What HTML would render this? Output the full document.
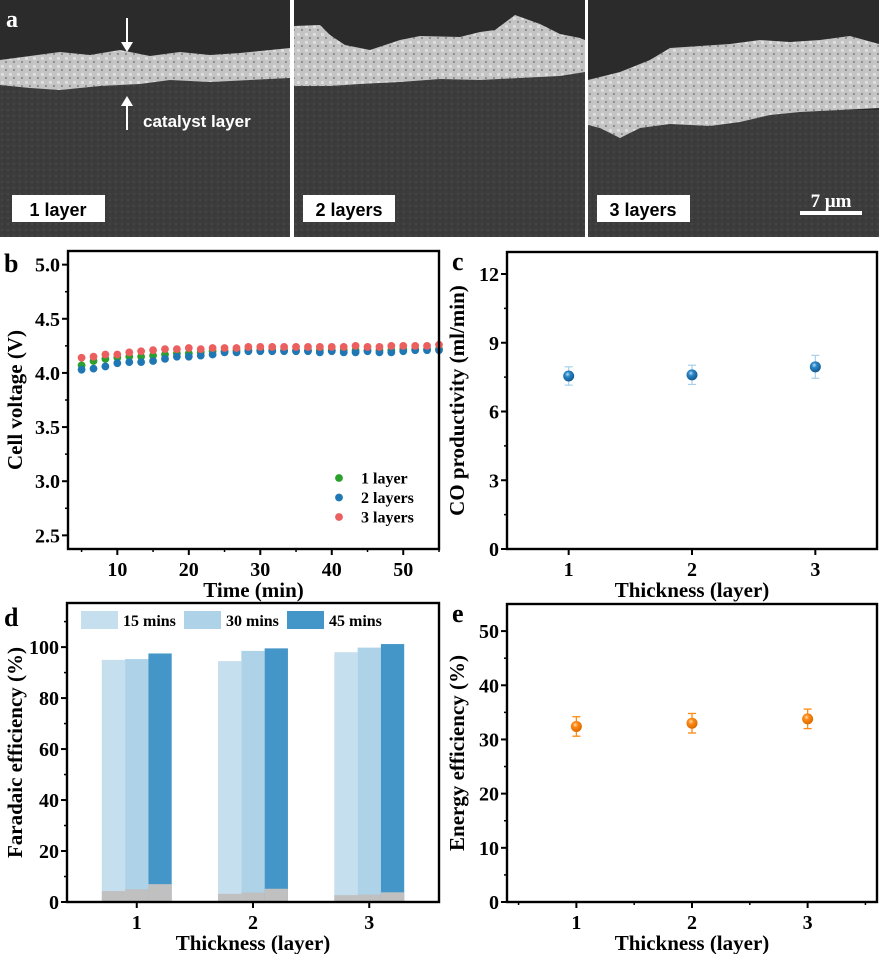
<!DOCTYPE html>
<html><head><meta charset="utf-8"><style>
html,body{margin:0;padding:0;background:#fff;}
svg{display:block;font-family:"Liberation Serif",serif;font-weight:bold;}
</style></head><body>
<svg id="fig" width="879" height="954" viewBox="0 0 879 954" xmlns="http://www.w3.org/2000/svg">
<defs>
<radialGradient id="gBlue" cx="40%" cy="35%" r="65%"><stop offset="0" stop-color="#bfe0f5"/><stop offset="0.35" stop-color="#2a86c6"/><stop offset="1" stop-color="#135a92"/></radialGradient>
<radialGradient id="gOr" cx="40%" cy="35%" r="65%"><stop offset="0" stop-color="#ffe0b8"/><stop offset="0.35" stop-color="#ff8a14"/><stop offset="1" stop-color="#d86a00"/></radialGradient>
<pattern id="grain" width="6" height="6" patternUnits="userSpaceOnUse"><rect width="6" height="6" fill="#3c3c3c"/><rect x="1" y="1" width="2" height="2" fill="#454545"/><rect x="4" y="3" width="1" height="2" fill="#353535"/></pattern>
<pattern id="cat" width="8" height="8" patternUnits="userSpaceOnUse"><rect width="8" height="8" fill="#c4c4c4"/><rect x="1" y="1" width="3" height="3" fill="#dedede"/><rect x="5" y="5" width="2" height="2" fill="#909090"/></pattern>
</defs>

<g id="panel-a">
  <g>
    <rect x="0" y="0" width="290" height="237" fill="url(#grain)"/>
    <rect x="0" y="0" width="290" height="60" fill="#2b2b2b"/>
    <polygon fill="url(#cat)" points="0,60 30,56 60,52 90,55 120,50 150,56 180,52 210,55 240,53 290,48 290,78 250,80 210,82 170,80 140,84 100,86 60,90 30,88 0,85"/>
    <text x="6" y="27" fill="#fff" font-size="24">a</text>
    <line x1="127" y1="18" x2="127" y2="44" stroke="#fff" stroke-width="2"/><polygon points="121,42 133,42 127,52" fill="#fff"/>
    <line x1="127" y1="130" x2="127" y2="104" stroke="#fff" stroke-width="2"/><polygon points="121,106 133,106 127,96" fill="#fff"/>
    <text x="143" y="127" fill="#fff" font-size="17" font-family="Liberation Sans,sans-serif">catalyst layer</text>
    <rect x="12" y="195" width="93" height="27" fill="#fff"/>
    <text x="58" y="216" text-anchor="middle" font-size="18" font-family="Liberation Sans,sans-serif">1 layer</text>
  </g>
  <g>
    <rect x="294" y="0" width="291" height="237" fill="url(#grain)"/>
    <rect x="294" y="0" width="291" height="70" fill="#2b2b2b"/>
    <polygon fill="url(#cat)" points="294,26 320,25 330,35 345,45 370,50 400,40 420,36 460,37 480,32 495,30 515,15 540,24 560,34 580,38 585,40 585,72 560,76 520,78 480,80 440,79 400,82 360,84 330,86 294,86"/>
    <rect x="303" y="195" width="92" height="27" fill="#fff"/>
    <text x="349" y="216" text-anchor="middle" font-size="18" font-family="Liberation Sans,sans-serif">2 layers</text>
  </g>
  <g>
    <rect x="588" y="0" width="291" height="237" fill="url(#grain)"/>
    <rect x="588" y="0" width="291" height="110" fill="#2b2b2b"/>
    <polygon fill="url(#cat)" points="588,80 620,72 650,60 670,48 700,46 730,44 760,40 790,42 820,40 850,36 879,44 879,108 840,110 800,112 770,115 740,122 710,126 670,124 640,128 620,138 600,128 588,125"/>
    <rect x="597" y="195" width="93" height="27" fill="#fff"/>
    <text x="643" y="216" text-anchor="middle" font-size="18" font-family="Liberation Sans,sans-serif">3 layers</text>
    <text x="831" y="207" text-anchor="middle" fill="#fff" font-size="19">7 μm</text>
    <rect x="800" y="211" width="62" height="4" fill="#fff"/>
  </g>
</g>
<g id="charts"></g>
</svg>
<script>
// ---- Panel b data ----
const bTimes = [5,6.67,8.33,10,11.67,13.33,15,16.67,18.33,20,21.67,23.33,25,26.67,28.33,30,31.67,33.33,35,36.67,38.33,40,41.67,43.33,45,46.67,48.33,50,51.67,53.33,55];
const bLayer1 = [4.07,4.11,4.13,4.14,4.15,4.15,4.16,4.17,4.18,4.18,4.19,4.20,4.20,4.21,4.21,4.21,4.21,4.21,4.21,4.21,4.21,4.21,4.21,4.21,4.21,4.21,4.21,4.22,4.22,4.22,4.22];
const bLayer2 = [4.03,4.04,4.06,4.09,4.10,4.10,4.11,4.13,4.15,4.15,4.16,4.17,4.19,4.19,4.20,4.20,4.20,4.20,4.20,4.20,4.19,4.20,4.19,4.19,4.20,4.19,4.19,4.20,4.21,4.21,4.21];
const bLayer3 = [4.14,4.15,4.17,4.17,4.19,4.20,4.21,4.22,4.22,4.23,4.22,4.23,4.23,4.23,4.24,4.24,4.24,4.24,4.24,4.24,4.24,4.24,4.24,4.25,4.24,4.24,4.25,4.25,4.25,4.25,4.26];
const bYTicks = [2.5,3.0,3.5,4.0,4.5,5.0];
const bXTicks = [10,20,30,40,50];
// ---- Panel c data ----
const cCats = [1,2,3];
const cValues = [7.55,7.6,7.95];
const cErrors = [0.4,0.42,0.5];
const cYTicks = [0,3,6,9,12];
// ---- Panel d data ----
const dCats = [1,2,3];
const dSeries = ['15 mins','30 mins','45 mins'];
const dFE15 = [95,94.5,98];
const dFE30 = [95.3,98.5,99.8];
const dFE45 = [97.5,99.5,101.2];
const dH2_15 = [4.3,3.2,2.7];
const dH2_30 = [5,3.7,2.9];
const dH2_45 = [7,5.2,3.8];
const dYTicks = [0,20,40,60,80,100];
// ---- Panel e data ----
const eCats = [1,2,3];
const eValues = [32.4,33,33.8];
const eErrors = [1.8,1.8,1.8];
const eYTicks = [0,10,20,30,40,50];

const NS='http://www.w3.org/2000/svg';
const root=document.getElementById('charts');
function el(tag,attrs,parent,text){const e=document.createElementNS(NS,tag);for(const k in attrs)e.setAttribute(k,attrs[k]);if(text!==undefined)e.textContent=text;(parent||root).appendChild(e);return e;}
function lin(d0,d1,r0,r1){return v=>r0+(v-d0)/(d1-d0)*(r1-r0);}

function frame(g,L,T,R,B,xs,ys,xTicks,yTicks,xMinor,yMinor,xTitle,yTitle,letter,yTitleX){
  el('rect',{x:L,y:T,width:R-L,height:B-T,fill:'none',stroke:'#000','stroke-width':2.4},g);
  const dec=yTicks.some(q=>q%1!==0);
  yTicks.forEach(v=>{const y=ys(v);
    el('line',{x1:L-6,y1:y,x2:L,y2:y,stroke:'#000','stroke-width':2},g);
    const tx=el('text',{x:L-8,y:y+7,'text-anchor':'end','font-size':20},g,dec?v.toFixed(1):String(v));
    
    
  });
  yMinor.forEach(v=>{const y=ys(v);el('line',{x1:L-3,y1:y,x2:L,y2:y,stroke:'#000','stroke-width':1.5},g);});
  xTicks.forEach(v=>{const x=xs(v);
    el('line',{x1:x,y1:B,x2:x,y2:B+6,stroke:'#000','stroke-width':2},g);
    const tx=el('text',{x:x,y:B+27,'text-anchor':'middle','font-size':20},g,String(v));
    
    
  });
  xMinor.forEach(v=>{const x=xs(v);el('line',{x1:x,y1:B,x2:x,y2:B+3,stroke:'#000','stroke-width':1.5},g);});
  const xt=el('text',{x:(L+R)/2,y:B+48,'text-anchor':'middle','font-size':21},g,xTitle);
  
  
  const cy=(T+B)/2;
  const yt=el('text',{x:yTitleX,y:cy,'text-anchor':'middle','font-size':21,transform:`rotate(-90 ${yTitleX} ${cy})`},g,yTitle);
  
  
  const pl=el('text',{x:letter[0],y:letter[1],'font-size':26},g,letter[2]);
  
  
}

// Panel b
(function(){
  const g=el('g',{});
  
  
  const L=68,R=439,T=251,B=549;
  const xs=lin(3.1,55,L,R), ys=lin(2.374,5.126,B,T);
  const series=[[bLayer1,'#2ca02c','1 layer'],[bLayer2,'#1f77b4','2 layers'],[bLayer3,'#ec5f5f','3 layers']];
  series.forEach(([vals,col,name])=>{
    vals.forEach((v,i)=>{
      const c=el('circle',{cx:xs(bTimes[i]),cy:ys(v),r:3.9,fill:col},g);
      
      
    });
  });
  frame(g,L,T,R,B,xs,ys,bXTicks,bYTicks,[5,15,25,35,45,55],[2.75,3.25,3.75,4.25,4.75],'Time (min)','Cell voltage (V)',[4,272,'b'],22);
  series.forEach(([vals,col,name],i)=>{
    const y=478+i*19.5;
    const m=el('circle',{cx:339,cy:y,r:3.9,fill:col},g);
    
    
    const t=el('text',{x:361,y:y+5.5,'font-size':16},g,name);
    
    
  });
})();

// Panel c
(function(){
  const g=el('g',{});
  
  
  const L=507,R=877,T=252,B=549;
  const xs=lin(0.5,3.5,L,R), ys=lin(0,12.96,B,T);
  frame(g,L,T,R,B,xs,ys,cCats,cYTicks,[],[1.5,4.5,7.5,10.5],'Thickness (layer)','CO productivity (ml/min)',[452,270,'c'],464);
  cCats.forEach((c,i)=>{
    const x=xs(c),y=ys(cValues[i]),e=cErrors[i];
    el('line',{x1:x,y1:ys(cValues[i]-e),x2:x,y2:ys(cValues[i]+e),stroke:'#a8d0ea','stroke-width':1.2},g);
    el('line',{x1:x-4,y1:ys(cValues[i]-e),x2:x+4,y2:ys(cValues[i]-e),stroke:'#a8d0ea','stroke-width':1.2},g);
    el('line',{x1:x-4,y1:ys(cValues[i]+e),x2:x+4,y2:ys(cValues[i]+e),stroke:'#a8d0ea','stroke-width':1.2},g);
    const p=el('circle',{cx:x,cy:y,r:5.5,fill:'url(#gBlue)'},g);
    
    
  });
})();

// Panel d
(function(){
  const g=el('g',{});
  
  
  const L=67,R=439,T=603,B=902;
  const xs=lin(0.4,3.6,L,R), ys=lin(0,117.3,B,T);
  const fe=[dFE15,dFE30,dFE45], h2=[dH2_15,dH2_30,dH2_45], cols=['#c6dfee','#aed3e8','#4596c8'];
  const bw=23.3;
  dCats.forEach((c,i)=>{
    fe.forEach((s,j)=>{
      const x=xs(c)+(j-1)*bw-bw/2;
      const r=el('rect',{x:x,y:ys(s[i]),width:bw,height:B-ys(s[i]),fill:cols[j]},g);
      
      
      const h=el('rect',{x:x,y:ys(h2[j][i]),width:bw,height:B-ys(h2[j][i]),fill:'#c0c0c0'},g);
      
      
    });
  });
  frame(g,L,T,R,B,xs,ys,dCats,dYTicks,[],[10,30,50,70,90,110],'Thickness (layer)','Faradaic efficiency (%)',[4,626,'d'],22);
  dSeries.forEach((s,j)=>{
    const x=81+j*103;
    const r=el('rect',{x:x,y:611,width:37,height:18,fill:cols[j]},g);
    
    
    const t=el('text',{x:x+42,y:626,'font-size':16},g,s);
    
    
  });
})();

// Panel e
(function(){
  const g=el('g',{});
  
  
  const L=507,R=877,T=604,B=902;
  const xs=lin(0.4,3.6,L,R), ys=lin(0,55,B,T);
  frame(g,L,T,R,B,xs,ys,eCats,eYTicks,[0.5,1.5,2.5,3.5],[5,15,25,35,45],'Thickness (layer)','Energy efficiency (%)',[452,622,'e'],464);
  eCats.forEach((c,i)=>{
    const x=xs(c),y=ys(eValues[i]),e=eErrors[i];
    el('line',{x1:x,y1:ys(eValues[i]-e),x2:x,y2:ys(eValues[i]+e),stroke:'#ff8a14','stroke-width':1.3},g);
    el('line',{x1:x-4,y1:ys(eValues[i]-e),x2:x+4,y2:ys(eValues[i]-e),stroke:'#ff8a14','stroke-width':1.3},g);
    el('line',{x1:x-4,y1:ys(eValues[i]+e),x2:x+4,y2:ys(eValues[i]+e),stroke:'#ff8a14','stroke-width':1.3},g);
    const p=el('circle',{cx:x,cy:y,r:5.5,fill:'url(#gOr)'},g);
    
    
  });
})();
</script>
</body></html>
